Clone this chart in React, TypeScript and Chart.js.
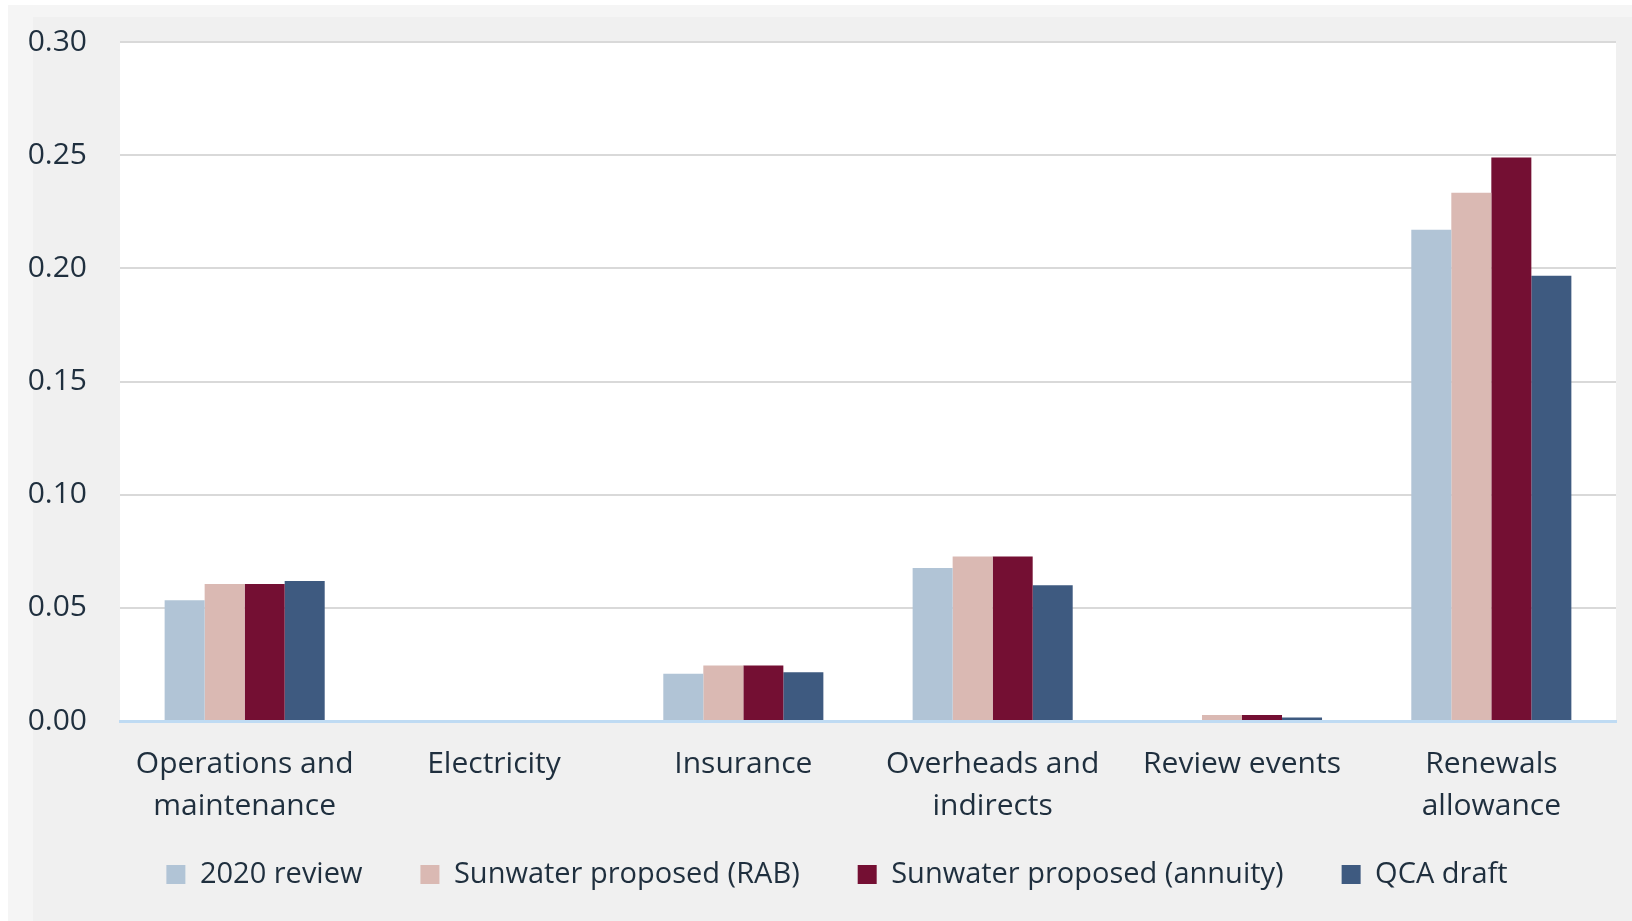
import React, { useEffect, useRef } from "react";
import { Chart, registerables } from "chart.js";

Chart.register(...registerables);

const categories: (string | string[])[] = [
  ["Operations and", "maintenance"],
  "Electricity",
  "Insurance",
  ["Overheads and", "indirects"],
  "Review events",
  ["Renewals", "allowance"],
];

const review2020 = [0.0534, 0, 0.0209, 0.0676, 0, 0.217];
const sunwaterRAB = [0.0605, 0, 0.0245, 0.0727, 0.0027, 0.2334];
const sunwaterAnnuity = [0.0605, 0, 0.0245, 0.0727, 0.0027, 0.249];
const qcaDraft = [0.0619, 0, 0.0215, 0.06, 0.0016, 0.1967];

const yTicks = [0, 0.05, 0.1, 0.15, 0.2, 0.25, 0.3];

const seriesNames = [
  "2020 review",
  "Sunwater proposed (RAB)",
  "Sunwater proposed (annuity)",
  "QCA draft",
];
const seriesColors = ["#b1c4d6", "#dab9b3", "#740f33", "#3e5a80"];

const W = 1632;
const H = 921;
const TEXT = "#1f2f3e";
const FONT = "'Open Sans'";

const bgPlugin = {
  id: "bgPlugin",
  afterLayout(chart: any) {
    // let the two-line category labels extend below the axis box
    const x = chart.scales.x;
    if (x) x.bottom = x.top + 130;
    if (chart.legend) {
      chart.legend.left += 29;
      chart.legend.right += 29;
    }
  },
  beforeDraw(chart: any) {
    const { ctx, chartArea } = chart;
    ctx.save();
    ctx.fillStyle = "#f0f0f0";
    ctx.fillRect(0, 0, W, H);
    ctx.fillStyle = "#f5f5f5";
    ctx.fillRect(0, 5, W, 12);
    ctx.fillRect(8, 5, 25, H);
    ctx.fillStyle = "#ffffff";
    ctx.fillRect(0, 0, W, 5);
    ctx.fillRect(0, 0, 8, H);
    ctx.fillRect(
      chartArea.left,
      chartArea.top,
      chartArea.right - chartArea.left,
      chartArea.bottom - chartArea.top
    );
    ctx.restore();
  },
};

export default function App() {
  const ref = useRef<HTMLCanvasElement | null>(null);

  useEffect(() => {
    if (!ref.current) return;
    const chart = new Chart(ref.current, {
      type: "bar",
      data: {
        labels: categories,
        datasets: [review2020, sunwaterRAB, sunwaterAnnuity, qcaDraft].map(
          (d, i) => ({
            label: seriesNames[i],
            data: d,
            backgroundColor: seriesColors[i],
            borderWidth: 0,
            categoryPercentage: 0.642,
            barPercentage: 1,
          })
        ),
      },
      options: {
        responsive: false,
        animation: false,
        layout: { padding: { left: 0, right: 16, top: 42, bottom: 22 } },
        plugins: {
          tooltip: { enabled: false },
          legend: {
            position: "bottom",
            labels: {
              color: TEXT,
              font: { family: FONT, size: 29 },
              boxWidth: 19,
              boxHeight: 19,
              padding: 58,
            },
          },
        },
        scales: {
          x: {
            grid: { display: false, drawTicks: false },
            border: { display: true, color: "#bfdbf3", width: 3 },
            ticks: {
              color: TEXT,
              font: { family: FONT, size: 30, lineHeight: "42px" },
              padding: 22,
              maxRotation: 0,
              autoSkip: false,
            },
            afterFit: (scale: any) => {
              scale.height = 81;
            },
          },
          y: {
            min: 0,
            max: 0.3,
            afterBuildTicks: (scale: any) => {
              scale.ticks = yTicks.map((v) => ({ value: v }));
            },
            grid: { color: "#d9d9d9", lineWidth: 2, drawTicks: false },
            border: { display: false },
            ticks: {
              color: TEXT,
              font: { family: FONT, size: 30 },
              padding: 33,
              callback: (v: any) => Number(v).toFixed(2),
            },
            afterFit: (scale: any) => {
              scale.width = 120;
              scale.paddingTop = 0;
              scale.paddingBottom = 0;
            },
          },
        },
      },
      plugins: [bgPlugin],
    });
    return () => chart.destroy();
  }, []);

  return (
    <div
      style={{
        position: "fixed",
        left: 0,
        top: 0,
        width: W,
        height: H,
        background: "#f0f0f0",
      }}
    >
      <canvas
        ref={ref}
        width={W}
        height={H}
        style={{ display: "block", width: W, height: H }}
      />
    </div>
  );
}
